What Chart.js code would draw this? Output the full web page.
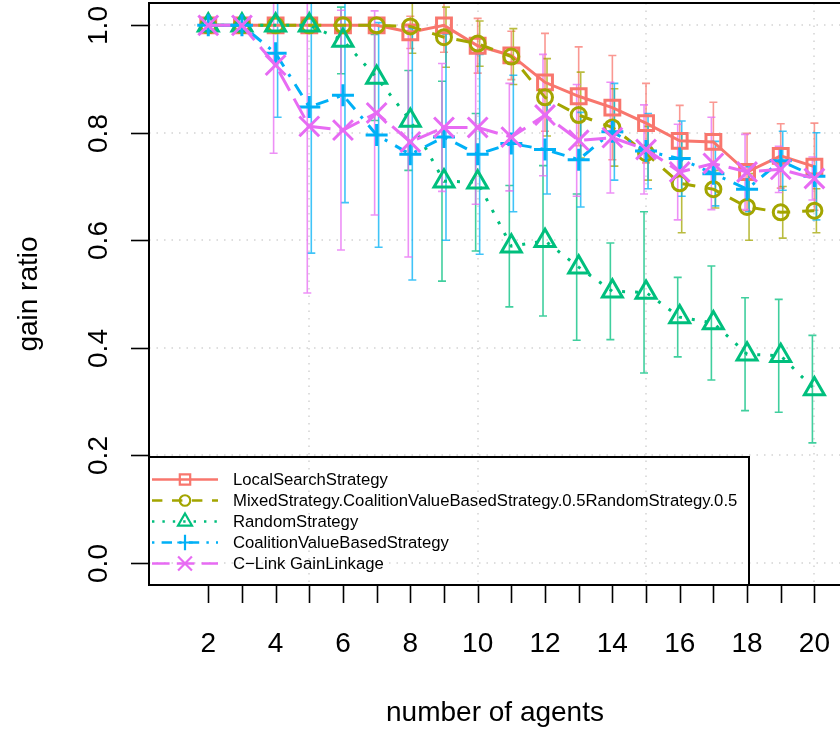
<!DOCTYPE html>
<html>
<head>
<meta charset="utf-8">
<title>gain ratio vs number of agents</title>
<script src="https://cdn.jsdelivr.net/npm/chart.js@4.4.1/dist/chart.umd.min.js"></script>
<style>
    html, body { margin: 0; padding: 0; background: #fff; overflow: hidden; }
    canvas { display: block; }
</style>
</head>
<body>
<canvas id="gainChart" width="840" height="732"></canvas>
<script>
// number of agents (x axis)
const agents = [2, 3, 4, 5, 6, 7, 8, 9, 10, 11, 12, 13, 14, 15, 16, 17, 18, 19, 20];

// mean gain ratio per strategy
const localSearch = [1.0, 1.0, 1.0, 1.0, 1.0, 1.0, 0.987, 1.0, 0.962, 0.944, 0.894, 0.868, 0.847, 0.818, 0.785, 0.783, 0.727, 0.757, 0.737];
const mixed = [1.0, 1.0, 1.0, 1.0, 1.0, 1.0, 0.998, 0.978, 0.966, 0.942, 0.866, 0.833, 0.81, 0.762, 0.706, 0.695, 0.662, 0.652, 0.655];
const random = [1.0, 1.0, 1.0, 1.0, 0.972, 0.903, 0.823, 0.71, 0.708, 0.589, 0.599, 0.55, 0.505, 0.503, 0.457, 0.446, 0.388, 0.385, 0.323];
const coalitionValue = [1.0, 1.0, 0.948, 0.848, 0.87, 0.796, 0.76, 0.792, 0.76, 0.78, 0.769, 0.75, 0.802, 0.766, 0.752, 0.724, 0.695, 0.748, 0.719];
const cLink = [1.0, 1.0, 0.926, 0.812, 0.805, 0.837, 0.783, 0.81, 0.81, 0.792, 0.833, 0.786, 0.791, 0.769, 0.727, 0.743, 0.727, 0.732, 0.715];

// error bar half widths (+/- sd)
const localSearchErr = [0, 0, 0, 0, 0, 0, 0.03, 0.05, 0.051, 0.045, 0.091, 0.092, 0.097, 0.074, 0.066, 0.074, 0.072, 0.06, 0.081];
const mixedErr = [0, 0, 0, 0, 0, 0, 0.05, 0.056, 0.042, 0.052, 0.072, 0.08, 0.072, 0.05, 0.092, 0.035, 0.062, 0.048, 0.041];
const randomErr = [0, 0, 0, 0, 0.062, 0.08, 0.093, 0.186, 0.128, 0.113, 0.14, 0.136, 0.09, 0.15, 0.074, 0.106, 0.105, 0.105, 0.1];
const coalitionValueErr = [0, 0, 0.119, 0.272, 0.2, 0.209, 0.234, 0.192, 0.186, 0.127, 0.083, 0.088, 0.09, 0.07, 0.07, 0.06, 0.042, 0.055, 0.081];
const cLinkErr = [0, 0, 0.164, 0.31, 0.223, 0.19, 0.214, 0.119, 0.143, 0.1, 0.113, 0.104, 0.103, 0.083, 0.089, 0.086, 0.07, 0.043, 0.04];

const seriesNames = [
    'LocalSearchStrategy',
    'MixedStrategy.CoalitionValueBasedStrategy.0.5RandomStrategy.0.5',
    'RandomStrategy',
    'CoalitionValueBasedStrategy',
    'C\u2212Link GainLinkage'
];

// axis ticks / grid
const xTicks = [2, 3, 4, 5, 6, 7, 8, 9, 10, 11, 12, 13, 14, 15, 16, 17, 18, 19, 20];
const xTickLabels = [2, 4, 6, 8, 10, 12, 14, 16, 18, 20];
const yTicks = [0, 0.2, 0.4, 0.6, 0.8, 1.0];
const yTickLabels = ['0.0', '0.2', '0.4', '0.6', '0.8', '1.0'];
const xGrid = [0, 5, 10, 15, 20];

const FONT = '"Liberation Sans", Arial, Helvetica, sans-serif';

// per-series look (R lty / pch)
const styles = [
    { color: '#F8766D', dash: [],             point: 'rect',     radius: 10.5, shift: 0 },
    { color: '#A3A500', dash: [13, 12],       point: 'circle',   radius: 7.5,  shift: 2 },
    { color: '#00BF7D', dash: [3, 10],        point: 'triangle', radius: 11.5, shift: -2 },
    { color: '#00B0F6', dash: [3, 9, 13, 9],  point: 'cross',    radius: 11,   shift: 2 },
    { color: '#E76BF3', dash: [22, 9],        point: 'crossRot', radius: 14,   shift: -2 }
];

const allValues = [localSearch, mixed, random, coalitionValue, cLink];
const allErrors = [localSearchErr, mixedErr, randomErr, coalitionValueErr, cLinkErr];

function withAlpha(hex, a) {
    const n = parseInt(hex.slice(1), 16);
    return `rgba(${(n >> 16) & 255}, ${(n >> 8) & 255}, ${n & 255}, ${a})`;
}

// draw an R-like marker (used for the legend)
function drawMarker(ctx, style, x, y, r) {
    ctx.beginPath();
    switch (style) {
        case 'rect': {
            const s = Math.SQRT1_2 * r;
            ctx.rect(x - s, y - s, 2 * s, 2 * s);
            break;
        }
        case 'circle':
            ctx.arc(x, y, r, 0, Math.PI * 2);
            break;
        case 'triangle': {
            const w = r * Math.sqrt(3) / 2;
            ctx.moveTo(x, y - r);
            ctx.lineTo(x + w, y + r / 2);
            ctx.lineTo(x - w, y + r / 2);
            ctx.closePath();
            break;
        }
        case 'cross':
            ctx.moveTo(x - r, y); ctx.lineTo(x + r, y);
            ctx.moveTo(x, y - r); ctx.lineTo(x, y + r);
            break;
        case 'crossRot': {
            const d = r * Math.SQRT1_2;
            ctx.moveTo(x - d, y - d); ctx.lineTo(x + d, y + d);
            ctx.moveTo(x - d, y + d); ctx.lineTo(x + d, y - d);
            break;
        }
    }
    ctx.stroke();
}

// dotted grid like R's grid()
const gridPlugin = {
    id: 'rGrid',
    beforeDatasetsDraw(chart) {
        const { ctx, chartArea: a, scales: { x, y } } = chart;
        ctx.save();
        ctx.strokeStyle = '#d3d3d3';
        ctx.lineWidth = 1.5;
        ctx.setLineDash([1.5, 6]);
        xGrid.forEach(v => {
            const px = Math.round(x.getPixelForValue(v));
            if (px < a.left || px > a.right) return;
            ctx.beginPath();
            ctx.moveTo(px, a.top);
            ctx.lineTo(px, a.bottom);
            ctx.stroke();
        });
        yTicks.forEach(v => {
            const py = Math.round(y.getPixelForValue(v));
            ctx.beginPath();
            ctx.moveTo(a.left, py);
            ctx.lineTo(a.right, py);
            ctx.stroke();
        });
        ctx.restore();
    }
};

// vertical error bars with caps
const errorBarPlugin = {
    id: 'errorBars',
    beforeDatasetsDraw(chart) {
        const { ctx, chartArea: a, scales: { x, y } } = chart;
        ctx.save();
        ctx.beginPath();
        ctx.rect(a.left, a.top, a.right - a.left, a.bottom - a.top);
        ctx.clip();
        ctx.lineWidth = 1.6;
        allValues.forEach((vals, i) => {
            ctx.strokeStyle = withAlpha(styles[i].color, 0.75);
            vals.forEach((v, j) => {
                const e = allErrors[i][j];
                if (!e) return;
                const px = x.getPixelForValue(agents[j]) + styles[i].shift;
                const top = y.getPixelForValue(v + e);
                const bot = y.getPixelForValue(v - e);
                ctx.beginPath();
                ctx.moveTo(px, top); ctx.lineTo(px, bot);
                ctx.moveTo(px - 4, top); ctx.lineTo(px + 4, top);
                ctx.moveTo(px - 4, bot); ctx.lineTo(px + 4, bot);
                ctx.stroke();
            });
        });
        ctx.restore();
    }
};

// box, ticks, tick labels and axis titles
const axesPlugin = {
    id: 'rAxes',
    afterDraw(chart) {
        const { ctx, chartArea: a, scales: { x, y } } = chart;
        ctx.save();
        ctx.strokeStyle = '#000';
        ctx.fillStyle = '#000';
        ctx.lineWidth = 2;
        ctx.strokeRect(a.left, a.top, a.right - a.left + 2, a.bottom - a.top);

        // x ticks
        ctx.lineWidth = 1.6;
        xTicks.forEach(v => {
            const px = Math.round(x.getPixelForValue(v)) + 0.5;
            ctx.beginPath();
            ctx.moveTo(px, a.bottom);
            ctx.lineTo(px, a.bottom + 18);
            ctx.stroke();
        });
        ctx.font = `28px ${FONT}`;
        ctx.textAlign = 'center';
        ctx.textBaseline = 'alphabetic';
        xTickLabels.forEach(v => {
            ctx.fillText(String(v), x.getPixelForValue(v), 652);
        });

        // y ticks
        yTicks.forEach((v, i) => {
            const py = Math.round(y.getPixelForValue(v)) + 0.5;
            ctx.beginPath();
            ctx.moveTo(a.left - 18, py);
            ctx.lineTo(a.left, py);
            ctx.stroke();
            ctx.save();
            ctx.translate(107, py);
            ctx.rotate(-Math.PI / 2);
            ctx.fillText(yTickLabels[i], 0, 0);
            ctx.restore();
        });

        // axis titles
        ctx.fillText('number of agents', 495, 721);
        ctx.save();
        ctx.translate(37, (a.top + a.bottom) / 2);
        ctx.rotate(-Math.PI / 2);
        ctx.fillText('gain ratio', 0, 0);
        ctx.restore();
        ctx.restore();
    }
};

// legend in the bottom-left corner of the plot
const legendPlugin = {
    id: 'rLegend',
    afterDraw(chart) {
        const { ctx, chartArea: a } = chart;
        const box = { left: a.left, top: 457, right: 749, bottom: a.bottom };
        ctx.save();
        ctx.strokeStyle = '#000';
        ctx.lineWidth = 2;
        ctx.strokeRect(box.left, box.top, box.right - box.left, box.bottom - box.top);

        ctx.font = `16.7px ${FONT}`;
        ctx.textAlign = 'left';
        ctx.textBaseline = 'middle';
        seriesNames.forEach((name, i) => {
            const st = styles[i];
            const ly = 479.5 + i * 21;
            ctx.strokeStyle = st.color;
            ctx.lineWidth = 2.5;
            ctx.setLineDash(st.dash.map(d => d * 0.8));
            ctx.beginPath();
            ctx.moveTo(152, ly);
            ctx.lineTo(218, ly);
            ctx.stroke();
            ctx.setLineDash([]);
            ctx.lineWidth = 2.2;
            drawMarker(ctx, st.point, 185, ly, st.radius * 0.7);
            ctx.fillStyle = '#000';
            ctx.fillText(name, 233, ly + 1);
        });
        ctx.restore();
    }
};

const datasets = allValues.map((vals, i) => ({
    label: seriesNames[i],
    data: agents.map((n, j) => ({ x: n, y: vals[j] })),
    borderColor: styles[i].color,
    borderWidth: 3,
    borderDash: styles[i].dash,
    tension: 0,
    fill: false,
    pointStyle: styles[i].point,
    pointRadius: styles[i].radius,
    pointBorderWidth: 3,
    pointBorderColor: styles[i].color,
    pointBackgroundColor: 'rgba(0,0,0,0)',
    order: -i,
    clip: false
}));

const gainChart = new Chart(document.getElementById('gainChart'), {
    type: 'line',
    data: { datasets: datasets },
    options: {
        responsive: false,
        animation: false,
        devicePixelRatio: 1,
        layout: {
            autoPadding: false,
            padding: { left: 149, top: 3, right: 0, bottom: 147 }
        },
        plugins: {
            legend: { display: false },
            tooltip: { enabled: false }
        },
        scales: {
            x: { type: 'linear', min: 0.24, max: 20.76, display: false },
            y: { type: 'linear', min: -0.0416, max: 1.0416, display: false }
        }
    },
    plugins: [gridPlugin, errorBarPlugin, axesPlugin, legendPlugin]
});
</script>
</body>
</html>
